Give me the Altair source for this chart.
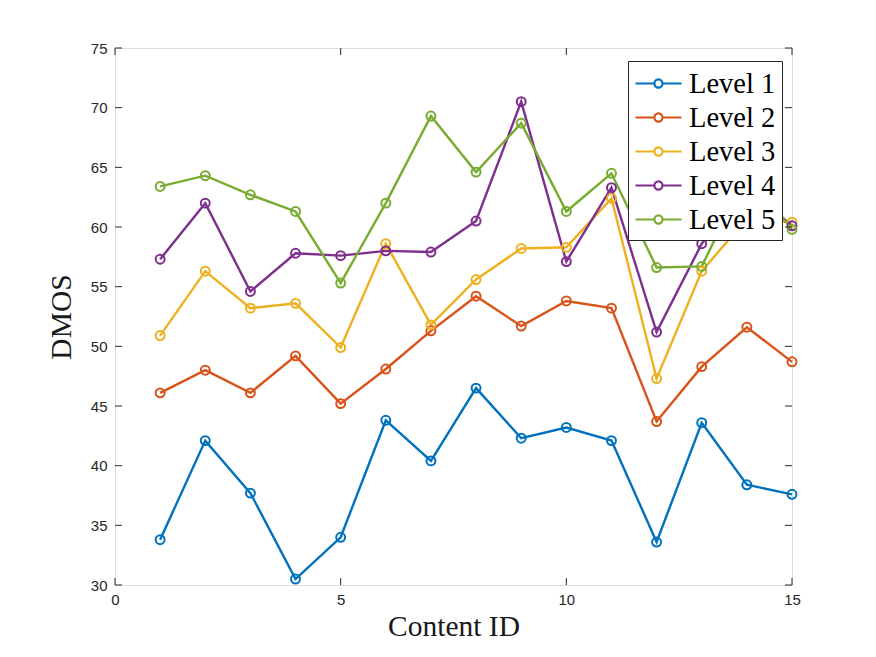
import altair as alt
import pandas as pd

content_id = [1, 2, 3, 4, 5, 6, 7, 8, 9, 10, 11, 12, 13, 14, 15]
levels = ["Level 1", "Level 2", "Level 3", "Level 4", "Level 5"]
level1 = [33.8, 42.1, 37.7, 30.5, 34.0, 43.8, 40.4, 46.5, 42.3, 43.2, 42.1, 33.6, 43.6, 38.4, 37.6]
level2 = [46.1, 48.0, 46.1, 49.2, 45.2, 48.1, 51.3, 54.2, 51.7, 53.8, 53.2, 43.7, 48.3, 51.6, 48.7]
level3 = [50.9, 56.3, 53.2, 53.6, 49.9, 58.6, 51.8, 55.6, 58.2, 58.3, 62.4, 47.3, 56.3, 60.7, 60.4]
level4 = [57.3, 62.0, 54.6, 57.8, 57.6, 58.0, 57.9, 60.5, 70.5, 57.1, 63.3, 51.2, 58.6, 63.4, 60.1]
level5 = [63.4, 64.3, 62.7, 61.3, 55.3, 62.0, 69.3, 64.6, 68.7, 61.3, 64.5, 56.6, 56.7, 64.5, 59.8]
colors = ["#0072BD", "#D95319", "#EDB120", "#7E2F8E", "#77AC30"]
x_ticks = [0, 5, 10, 15]
y_ticks = [30, 35, 40, 45, 50, 55, 60, 65, 70, 75]

series = [level1, level2, level3, level4, level5]
rows = []
for name, vals in zip(levels, series):
    for cid, v in zip(content_id, vals):
        rows.append({"cid": cid, "dmos": v, "level": name})
df = pd.DataFrame(rows)
xt = pd.DataFrame({"t": x_ticks})
yt = pd.DataFrame({"t": y_ticks})

W, H = 677, 537
AX = "#262626"
xscale = alt.Scale(domain=[0, 15], nice=False, zero=False)
yscale = alt.Scale(domain=[30, 75], nice=False, zero=False)

xaxis = alt.Axis(values=x_ticks, title="Content ID", grid=False, ticks=False,
                 domain=False, labelFont="Liberation Sans", labelFontSize=15,
                 labelColor=AX, labelPadding=7, labelFlush=False,
                 titleFont="Liberation Serif",
                 titleFontSize=29.5, titleFontWeight="normal", titleColor="#1a1a1a",
                 titlePadding=5)
yaxis = alt.Axis(values=y_ticks, title="DMOS", grid=False, ticks=False,
                 domain=False, labelFont="Liberation Sans", labelFontSize=15,
                 labelColor=AX, labelPadding=8, labelFlush=False,
                 titleFont="Liberation Serif",
                 titleFontSize=29.5, titleFontWeight="normal", titleColor="#1a1a1a",
                 titlePadding=14)

sym_path = ("M-1,0L0.26,0M0.8,0L2.07,0"
            "M0.8,0A0.27,0.27,0,1,1,0.26,0A0.27,0.27,0,1,1,0.8,0")

lines = alt.Chart(df).mark_line(
    strokeWidth=2.4,
    point=alt.OverlayMarkDef(filled=False, size=80, strokeWidth=2),
).encode(
    x=alt.X("cid:Q", scale=xscale, axis=xaxis),
    y=alt.Y("dmos:Q", scale=yscale, axis=yaxis),
    color=alt.Color("level:N", scale=alt.Scale(domain=levels, range=colors),
                    legend=alt.Legend(title=None, orient="none", legendX=513, legendY=13,
                                      labelFont="Liberation Serif", labelFontSize=28.5,
                                      labelColor="black", symbolType=sym_path,
                                      symbolSize=900, symbolStrokeWidth=2.2,
                                      symbolFillColor="white",
                                      fillColor="white", strokeColor=AX, padding=6,
                                      rowPadding=3, labelOffset=22)),
)

tick_bottom = alt.Chart(xt).mark_rule(color=AX, strokeWidth=1).encode(
    x=alt.X("t:Q", scale=xscale, axis=xaxis), y=alt.value(H), y2=alt.value(H - 7))
tick_top = alt.Chart(xt).mark_rule(color=AX, strokeWidth=1).encode(
    x=alt.X("t:Q", scale=xscale, axis=xaxis), y=alt.value(0), y2=alt.value(7))
tick_left = alt.Chart(yt).mark_rule(color=AX, strokeWidth=1).encode(
    y=alt.Y("t:Q", scale=yscale, axis=yaxis), x=alt.value(0), x2=alt.value(7))
tick_right = alt.Chart(yt).mark_rule(color=AX, strokeWidth=1).encode(
    y=alt.Y("t:Q", scale=yscale, axis=yaxis), x=alt.value(W), x2=alt.value(W - 7))

chart = alt.layer(lines, tick_bottom, tick_top, tick_left, tick_right).properties(
    width=W, height=H,
    autosize=alt.AutoSizeParams(type="none"),
    padding={"left": 107, "top": 40, "right": 70, "bottom": 60},
).configure_view(stroke=AX, strokeWidth=1).configure(background="white")

chart.save("out.html", embed_options={"renderer": "svg", "actions": False})
